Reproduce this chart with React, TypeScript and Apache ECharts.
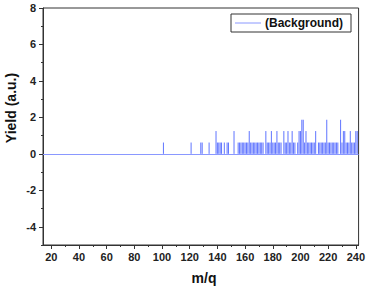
import React, { useEffect, useRef } from "react";
import * as echarts from "echarts";

const massToCharge = [
  101, 121, 128, 129, 134, 139, 140, 141, 142, 143, 145, 147, 148, 152, 155, 156, 157, 158, 159, 160,
  161, 162, 163, 164, 165, 166, 167, 168, 169, 170, 171, 172, 173, 175, 176, 177, 178, 179, 180, 181,
  182, 183, 184, 185, 186, 188, 189, 190, 191, 192, 193, 194, 195, 196, 198, 199, 200, 201, 202, 203,
  204, 205, 206, 207, 208, 209, 210, 211, 213, 214, 215, 216, 217, 218, 219, 220, 221, 222, 223, 224,
  225, 226, 227, 229, 230, 231, 232, 233, 234, 235, 236, 237, 238, 239, 240, 241,
];
const yieldValues = [
  0.62, 0.62, 0.62, 0.62, 0.62, 1.25, 0.62, 0.62, 0.62, 0.62, 0.62, 0.62, 0.62, 1.25, 0.62, 0.62, 0.62, 0.62, 0.62, 0.62,
  0.62, 0.62, 1.25, 0.62, 0.62, 0.62, 0.62, 0.62, 0.62, 0.62, 0.62, 0.62, 0.62, 1.25, 0.62, 0.62, 0.62, 1.25, 0.62, 0.62,
  0.62, 1.25, 0.62, 0.62, 0.62, 1.25, 0.62, 0.62, 1.25, 0.62, 0.62, 1.25, 0.62, 0.62, 0.62, 1.25, 1.25, 1.87, 1.87, 0.62,
  1.25, 0.62, 0.62, 0.62, 0.62, 0.62, 0.62, 1.25, 0.62, 0.62, 0.62, 0.62, 0.62, 0.62, 1.87, 0.62, 0.62, 0.62, 0.62, 0.62,
  0.62, 0.62, 0.62, 1.87, 0.62, 1.25, 1.25, 0.62, 0.62, 0.62, 1.25, 0.62, 0.62, 0.62, 1.25, 1.25,
];
const xTickValues = [20, 40, 60, 80, 100, 120, 140, 160, 180, 200, 220, 240];
const xMinorTicks = [30, 50, 70, 90, 110, 130, 150, 170, 190, 210, 230];
const yTickValues = [-4, -2, 0, 2, 4, 6, 8];
const yMinorTicks = [-5, -3, -1, 1, 3, 5, 7];
const legendLabel = "(Background)";
const xTitle = "m/q";
const yTitle = "Yield (a.u.)";

export default function App() {
  const ref = useRef<HTMLDivElement>(null);
  useEffect(() => {
    const chart = echarts.init(ref.current!, null, { renderer: "svg" });
    const font = "'Liberation Sans', Arial, sans-serif";
    const axisColor = "#333";
    const data = massToCharge.map((m, i) => [m, yieldValues[i]]);
    const labelStyle = { fontSize: 11, fontWeight: "bold", color: "#222", fontFamily: font };
    chart.setOption({
      animation: false,
      grid: { left: 43, top: 8, right: 6, bottom: 41, show: true, borderColor: axisColor, borderWidth: 1, backgroundColor: "#fff" },
      xAxis: [
        {
          type: "value", min: 14, max: 242, position: "bottom",
          axisLine: { show: true, onZero: false, lineStyle: { color: axisColor, width: 1 } },
          axisTick: { show: true, customValues: xTickValues, length: 4, lineStyle: { color: axisColor } },
          axisLabel: { customValues: xTickValues, margin: 6, ...labelStyle },
          splitLine: { show: false },
        },
        {
          type: "value", min: 14, max: 242, position: "bottom",
          axisLine: { show: false, onZero: false },
          axisTick: { show: true, customValues: xMinorTicks, length: 2, lineStyle: { color: axisColor } },
          axisLabel: { show: false },
          splitLine: { show: false },
        },
      ],
      yAxis: [
        {
          type: "value", min: -5, max: 8, position: "left",
          axisLine: { show: true, onZero: false, lineStyle: { color: axisColor, width: 1 } },
          axisTick: { show: true, customValues: yTickValues, length: 4, lineStyle: { color: axisColor } },
          axisLabel: { customValues: yTickValues, margin: 7, ...labelStyle },
          splitLine: { show: false },
        },
        {
          type: "value", min: -5, max: 8, position: "left",
          axisLine: { show: false, onZero: false },
          axisTick: { show: true, customValues: yMinorTicks, length: 2, lineStyle: { color: axisColor } },
          axisLabel: { show: false },
          splitLine: { show: false },
        },
      ],
      series: [
        {
          type: "custom",
          name: legendLabel,
          xAxisIndex: 0,
          yAxisIndex: 0,
          data,
          encode: { x: 0, y: 1 },
          clip: true,
          renderItem: (params: any, api: any) => {
            const x = api.value(0);
            const y = api.value(1);
            const p0 = api.coord([x, 0]);
            const p1 = api.coord([x, y]);
            return {
              type: "line",
              shape: { x1: p0[0], y1: p0[1], x2: p1[0], y2: p1[1] },
              style: { stroke: "#2a46ff", lineWidth: 1, opacity: 0.75 },
            };
          },
          markLine: {
            silent: true,
            symbol: "none",
            label: { show: false },
            lineStyle: { color: "#8a98ff", width: 1, type: "solid" },
            data: [{ yAxis: 0 }],
          },
        },
      ],
      graphic: [
        { type: "rect", shape: { x: 231, y: 14, width: 120, height: 18 }, style: { fill: "#fff", stroke: "#333", lineWidth: 1 }, z: 10 },
        { type: "line", shape: { x1: 235, y1: 23, x2: 261, y2: 23 }, style: { stroke: "#8a98ff", lineWidth: 1 }, z: 11 },
        { type: "text", x: 265, y: 23, style: { text: legendLabel, font: `bold 12px ${font}`, fill: "#111", verticalAlign: "middle", align: "left" }, z: 11 },
        { type: "text", x: 204, y: 278, style: { text: xTitle, font: `bold 14px ${font}`, fill: "#111", verticalAlign: "middle", align: "center" } },
        { type: "text", x: 11, y: 108, rotation: Math.PI / 2, style: { text: yTitle, font: `bold 14px ${font}`, fill: "#111", verticalAlign: "middle", align: "center" } },
      ],
    });
    return () => chart.dispose();
  }, []);
  return <div ref={ref} style={{ width: 368, height: 286, position: "absolute", left: 0, top: 0, background: "#fff" }} />;
}
